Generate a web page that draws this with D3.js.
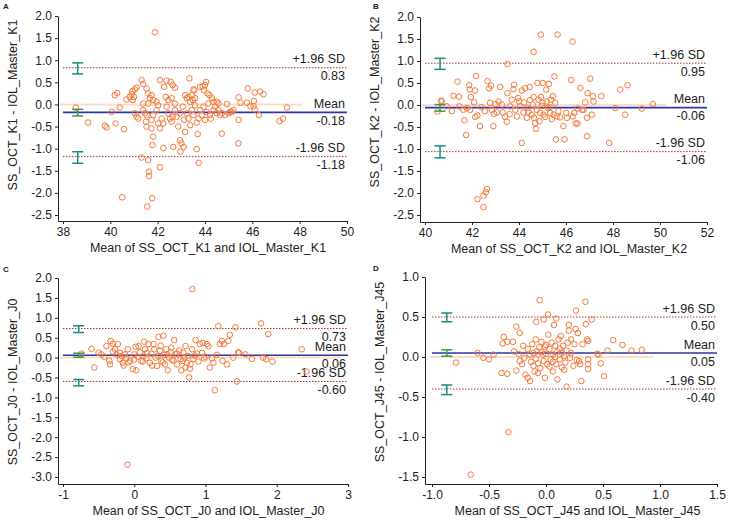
<html lang="en">
<head>
  <meta charset="UTF-8"/>
  <title>Bland-Altman plots with D3.js</title>
  <script src="https://d3js.org/d3.v7.min.js"></script>
  <style>
    body { margin: 0; background: #fff; }
    svg { font-family: 'Liberation Sans', Arial, sans-serif; }
    .tick text { font-size: 12px; fill: #222; }
    .tick line, .domain { stroke: #222; }
    .title { font-size: 12.5px; fill: #222; }
    .lim { font-size: 12.5px; fill: #222; }
    .letter { font-size: 8px; font-weight: bold; fill: #222; }
  </style>
</head>
<body>
  <svg width="740" height="529"></svg>

  <script>

  // ---- data ----
  const panelLetters = ['A', 'B', 'C', 'D'];
  const xTitles = [
    'Mean of SS_OCT_K1 and IOL_Master_K1',
    'Mean of SS_OCT_K2 and IOL_Master_K2',
    'Mean of SS_OCT_J0 and IOL_Master_J0',
    'Mean of SS_OCT_J45 and IOL_Master_J45'
  ];
  const yTitles = [
    'SS_OCT_K1 - IOL_Master_K1',
    'SS_OCT_K2 - IOL_Master_K2',
    'SS_OCT_J0 - IOL_Master_J0',
    'SS_OCT_J45 - IOL_Master_J45'
  ];

  const xTicksA = [38, 40, 42, 44, 46, 48, 50];
  const xTicksB = [40, 42, 44, 46, 48, 50, 52];
  const xTicksC = [-1, 0, 1, 2, 3];
  const xTicksD = [-1.0, -0.5, 0.0, 0.5, 1.0, 1.5];
  const yTicksA = [-2.5, -2.0, -1.5, -1.0, -0.5, 0.0, 0.5, 1.0, 1.5, 2.0];
  const yTicksB = [-2.5, -2.0, -1.5, -1.0, -0.5, 0.0, 0.5, 1.0, 1.5, 2.0];
  const yTicksC = [-3.0, -2.5, -2.0, -1.5, -1.0, -0.5, 0.0, 0.5, 1.0, 1.5, 2.0];
  const yTicksD = [-1.5, -1.0, -0.5, 0.0, 0.5, 1.0];

  // [upper limit, mean, lower limit]
  const limitsA = [0.83, -0.18, -1.18];
  const limitsB = [0.95, -0.06, -1.06];
  const limitsC = [0.73, 0.06, -0.60];
  const limitsD = [0.50, 0.05, -0.40];

  // confidence intervals of the limits and of the mean
  const ciA = [[0.69, 0.94], [-0.26, -0.11], [-1.33, -1.07]];
  const ciB = [[0.81, 1.06], [-0.14, 0.01], [-1.20, -0.93]];
  const ciC = [[0.63, 0.80], [0.01, 0.11], [-0.71, -0.55]];
  const ciD = [[0.44, 0.55], [0.01, 0.09], [-0.47, -0.35]];
  const ciX = [38.62, 40.64, -0.78, -0.87];
  const zeroEnd = [48.1, 50.26, 2.9, 0.94];

  const pointsA = [
    [41.88,1.63],[38.54,-0.07],[39.06,-0.41],[39.77,-0.48],[39.84,-0.52],[40.22,-0.43],[40.58,-0.56],
    [40.5,-2.10],[41.56,-2.31],[41.77,-2.12],[41.63,-1.52],[41.64,-1.62],[41.6,-1.26],[41.32,-1.20],
    [42.1,-1.42],[41.78,-0.92],[41.81,-0.73],[42.24,-0.99],[42.66,-0.96],[42.94,-0.81],[43.0,-0.88],
    [42.96,-1.07],[43.1,-0.96],[43.65,-1.01],[43.73,-1.32],[43.69,-0.67],[44.71,-0.66],[45.41,-0.88],
    [45.42,-0.35],[47.46,-0.07],[47.15,-0.38],[47.3,-0.32],[45.42,0.16],[45.77,0.04],[45.8,0.36],
    [46.1,0.27],[46.33,0.29],[46.47,0.23],[46.07,0.08],[46.05,-0.04],[46.1,-0.11],[46.28,-0.24],
    [45.92,-0.04],[45.5,0.04],[44.92,0.01],[45.06,-0.17],
    [40.19,0.21],[40.29,0.26],[40.68,0.11],[40.82,0.17],[40.9,0.23],[40.94,0.30],[41.04,0.34],
    [41.11,0.38],[41.0,0.17],[40.94,0.10],[41.32,0.55],[41.39,0.46],[41.53,0.36],[41.6,0.25],
    [41.67,0.14],[41.74,0.21],[41.81,0.10],[41.95,0.06],[42.02,-0.02],[42.1,0.55],[42.27,0.40],
    [42.38,0.54],[42.55,0.51],[42.63,0.44],[42.73,0.38],[42.34,0.17],[42.45,0.10],[42.59,0.14],
    [42.73,0.02],[43.16,0.21],[43.23,0.14],[43.3,0.17],[43.37,0.06],[43.48,0.10],[43.58,0.14],
    [43.34,0.59],[43.55,0.32],[43.79,0.40],[43.9,0.41],[43.96,0.32],[44.0,0.44],[44.05,0.51],
    [44.1,0.25],[44.19,0.21],[44.29,0.14],[44.36,0.06],[43.51,0.34],[43.44,0.21],
    [40.05,-0.17],[40.4,-0.07],[41.04,-0.20],[41.11,-0.28],[41.18,-0.32],[41.39,-0.13],[41.46,-0.20],
    [41.53,-0.24],[41.5,-0.39],[41.53,-0.50],[41.74,-0.35],[41.6,0.02],[41.39,0.02],[41.81,-0.24],
    [41.95,-0.13],[42.02,-0.43],[42.1,-0.54],[42.17,-0.32],[42.24,-0.43],[42.38,-0.05],[42.45,-0.20],
    [42.52,-0.32],[42.59,-0.39],[42.63,-0.28],[42.73,-0.13],[42.8,-0.28],[42.87,-0.50],[42.94,-0.20],
    [43.06,-0.05],[43.11,-0.35],[43.16,-0.62],[43.23,-0.20],[43.3,-0.32],[43.37,-0.47],[43.44,-0.13],
    [43.51,-0.24],[43.58,-0.02],[43.65,-0.41],[43.72,-0.32],[43.79,-0.13],[43.86,-0.24],[43.93,-0.05],
    [44.0,-0.35],[44.07,-0.17],[44.14,0.02],[44.21,-0.24],[44.24,-0.32],[44.36,-0.13],[44.43,-0.05],
    [44.5,-0.20],[44.57,-0.13],[44.64,-0.24],[44.71,-0.20],[44.85,-0.24],[44.99,-0.20],[45.13,-0.17],
    [45.2,-0.13],[44.57,0.02],[44.5,0.06],[41.74,-0.54]
  ];

  const pointsB = [
    [44.93,1.60],[45.64,1.60],[46.28,1.44],[44.62,1.21],[43.51,0.93],[42.17,0.66],[41.38,0.53],
    [42.66,0.54],[41.45,0.19],[41.21,0.21],[41.9,0.35],[42.13,0.33],[41.88,0.45],[41.95,0.18],
    [42.09,0.06],[40.71,0.08],[40.53,-0.15],[40.92,-0.03],[41.14,-0.14],[41.46,-0.03],[41.63,-0.11],
    [41.78,-0.07],[41.92,-0.11],[41.68,-0.35],[41.75,-0.68],[42.14,-0.27],[42.23,-0.24],[42.34,-0.48],
    [42.91,-0.48],[42.73,0.38],[42.81,0.44],[42.77,0.05],[42.84,-0.11],[42.94,-0.20],[43.05,-0.17],
    [43.13,0.08],[43.2,0.41],[43.27,0.01],[43.31,-0.17],[43.41,-0.27],[43.48,-0.38],[43.51,0.27],
    [43.62,-0.03],[43.69,0.12],[43.76,0.36],[43.79,0.46],[43.84,-0.11],[43.91,-0.26],[43.96,0.16],
    [44.05,-0.03],[44.12,0.33],[44.12,-0.86],[44.19,-0.17],[44.22,0.06],[44.26,0.38],[44.33,-0.29],
    [44.36,-0.07],[44.45,0.41],[44.47,0.11],[44.55,-0.22],[44.59,0.01],[44.62,0.18],[44.64,-0.29],
    [44.69,-0.41],[44.72,-0.54],[44.76,-0.11],[44.79,0.50],[44.83,0.12],[44.87,-0.37],[44.9,-0.18],
    [44.94,0.18],[44.97,-0.02],[45.01,0.50],[45.04,-0.22],[45.11,-0.27],[45.16,0.35],[45.18,0.08],
    [45.23,-0.07],[45.27,0.48],[45.33,-0.18],[45.36,0.12],[45.4,-0.32],[45.44,0.20],[45.47,-0.22],
    [45.51,0.65],[45.54,0.05],[45.57,-0.78],[45.61,-0.26],[45.68,-0.14],[45.89,-0.48],[45.94,-0.78],
    [46.01,-0.18],[46.04,-0.29],[46.21,0.57],[46.29,-0.26],[46.35,-0.18],[46.41,-0.42],[46.49,-0.42],
    [46.61,0.39],[46.68,-0.11],[46.75,-0.11],[46.82,0.06],[46.89,-0.29],[46.89,-0.71],[46.92,0.27],
    [47.03,0.60],[47.1,-0.22],[47.14,0.20],[47.17,0.08],[47.5,0.20],[47.84,-0.86],[48.1,-0.07],
    [48.31,0.35],[48.52,-0.22],[48.62,0.45],[49.23,-0.08],[49.7,0.02],
    [42.23,-2.14],[42.49,-2.32],[42.49,-2.06],[42.59,-1.98],[42.63,-1.91],[40.69,0.10],
    [42.4,-0.05],[42.55,-0.14],[43.0,0.02],[43.6,-0.21],[44.0,0.08],[44.4,-0.15],[45.0,0.05],
    [45.3,-0.05],[45.75,-0.28],[46.5,-0.08]
  ];

  const pointsC = [
    [0.815,1.72],[-0.095,-2.69],[-0.60,0.22],[-0.56,-0.25],[-0.74,0.10],[-0.46,0.08],[-0.39,0.29],
    [-0.33,0.42],[-0.30,0.35],[-0.27,0.21],[-0.23,0.34],[-0.34,-0.17],[-0.30,0.15],[-0.25,0.08],
    [-0.20,-0.04],[-0.16,-0.13],[-0.18,0.04],[-0.13,0.08],[-0.11,-0.02],[-0.09,0.21],[-0.06,-0.08],
    [-0.02,-0.29],[0.03,-0.32],[0.00,0.08],[0.02,0.27],[0.06,0.29],[0.08,0.13],[0.10,-0.08],
    [0.13,0.04],[0.15,0.21],[0.17,-0.02],[0.20,0.34],[0.22,-0.13],[0.24,0.10],[0.27,0.34],
    [0.28,0.21],[0.30,0.00],[0.32,-0.21],[0.34,0.52],[0.36,0.17],[0.38,-0.08],[0.41,0.55],
    [0.42,0.07],[0.43,-0.17],[0.45,0.21],[0.47,-0.32],[0.49,0.00],[0.51,0.13],[0.52,0.25],
    [0.55,-0.08],[0.56,0.44],[0.58,0.08],[0.60,-0.17],[0.63,0.18],[0.65,-0.04],[0.66,-0.32],
    [0.69,0.13],[0.72,0.29],[0.74,-0.13],[0.75,0.04],[0.77,-0.50],[0.79,-0.17],[0.81,0.21],
    [0.83,-0.04],[0.86,0.44],[0.88,0.10],[0.92,0.34],[0.96,0.37],[0.98,-0.02],[1.02,0.34],
    [1.04,0.29],[1.06,-0.25],[1.09,-0.02],[1.11,-0.13],[1.13,-0.82],[1.16,0.07],[1.18,0.79],
    [1.20,0.34],[1.23,0.42],[1.24,-0.08],[1.26,0.34],[1.30,-0.17],[1.32,0.42],[1.34,0.57],
    [1.39,0.00],[1.42,0.76],[1.44,-0.60],[1.46,0.13],[1.56,0.08],[1.65,-0.03],[1.78,0.86],
    [1.81,0.00],[1.85,-0.04],[1.88,0.59],[1.94,-0.10],[2.35,0.21],[2.42,-0.35],
    [-0.42,0.02],[-0.35,-0.08],[-0.20,0.12],[-0.08,-0.12],[0.05,0.02],[0.12,-0.10],[0.18,0.12],
    [0.25,-0.20],[0.33,0.05],[0.40,-0.12],[0.46,0.08],[0.53,-0.05],[0.60,0.10],[0.68,-0.08],
    [0.72,-0.25],[0.78,-0.28],[0.85,0.05],[0.90,-0.10],[0.95,0.12],[1.00,0.02],[-0.15,-0.20],
    [0.00,-0.05],[-0.50,0.12],[0.14,0.40],[0.37,0.30],[0.70,0.00],[1.47,0.12]
  ];

  const pointsD = [
    [-0.056,0.71],[0.345,0.69],[0.263,0.58],[0.018,0.53],[-0.02,0.47],[-0.085,0.44],[0.09,0.48],
    [-0.26,0.38],[-0.23,0.30],[-0.29,0.19],[-0.37,0.25],[-0.38,0.17],[-0.34,0.19],[-0.60,0.05],
    [-0.55,-0.01],[-0.50,-0.03],[-0.46,0.03],[-0.79,-0.07],[-0.39,-0.20],[-0.34,-0.21],[-0.33,-0.94],
    [-0.66,-1.47],[-0.26,-0.17],[-0.23,-0.05],[-0.21,-0.09],[-0.19,-0.01],[-0.18,-0.22],[-0.16,-0.26],
    [-0.14,-0.30],[-0.16,0.10],[-0.14,0.03],[-0.12,0.16],[-0.11,-0.11],[-0.10,-0.18],[-0.09,0.22],
    [-0.09,-0.02],[-0.08,0.07],[-0.07,-0.08],[-0.06,0.12],[-0.05,-0.14],[-0.04,0.19],[-0.03,0.03],
    [-0.02,-0.05],[-0.01,-0.26],[-0.01,0.13],[0.00,0.04],[0.01,-0.09],[0.02,0.28],[0.03,0.10],
    [0.04,-0.03],[0.05,0.18],[0.06,-0.18],[0.06,0.03],[0.07,0.40],[0.08,0.14],[0.09,-0.09],
    [0.10,-0.28],[0.10,0.07],[0.11,0.22],[0.12,-0.03],[0.13,0.26],[0.14,-0.13],[0.15,0.14],
    [0.16,0.01],[0.17,-0.07],[0.18,-0.37],[0.18,0.08],[0.20,0.33],[0.20,0.40],[0.21,-0.01],
    [0.22,0.22],[0.24,-0.11],[0.25,0.16],[0.26,0.35],[0.28,0.30],[0.29,-0.05],[0.30,-0.09],
    [0.31,-0.30],[0.32,0.16],[0.35,0.41],[0.36,0.22],[0.37,0.20],[0.37,-0.03],[0.37,-0.09],
    [0.37,-0.15],[0.40,0.47],[0.45,0.04],[0.48,-0.08],[0.51,-0.24],[0.54,0.08],[0.59,0.21],
    [0.67,0.15],[0.75,0.08],[0.84,0.09],[0.46,0.03],[-0.28,0.07],[-0.24,0.04],[-0.20,0.14],
    [-0.13,-0.06],[-0.04,0.06],[0.03,-0.12],[0.08,0.00],[0.12,0.10],[0.16,-0.16],[0.22,0.05],
    [0.27,-0.04],[-0.11,0.05],[0.00,0.15],[0.19,0.18],[-0.07,-0.20],[0.14,0.05],[0.06,-0.06]
  ];

  // ---- layout (pixel frame of each panel) ----
  const panels = [
    { id: 0, pts: pointsA, xt: xTicksA, yt: yTicksA, lim: limitsA, ci: ciA, xFmt: d => d,
      axX: 58, axY: 221, x0: 63, x1: 347, yB: 215, yT: 16, lx: 3, ly: 9, tx: 13, ty: 105 },
    { id: 1, pts: pointsB, xt: xTicksB, yt: yTicksB, lim: limitsB, ci: ciB, xFmt: d => d,
      axX: 420, axY: 222, x0: 425, x1: 707, yB: 215, yT: 17, lx: 373, ly: 9, tx: 375, ty: 102 },
    { id: 2, pts: pointsC, xt: xTicksC, yt: yTicksC, lim: limitsC, ci: ciC, xFmt: d => d,
      axX: 58, axY: 484, x0: 63, x1: 348, yB: 477, yT: 278, lx: 3, ly: 272, tx: 13, ty: 382 },
    { id: 3, pts: pointsD, xt: xTicksD, yt: yTicksD, lim: limitsD, ci: ciD, xFmt: d => d.toFixed(1),
      axX: 425, axY: 484, x0: 432, x1: 717, yB: 477, yT: 277, lx: 373, ly: 271, tx: 380, ty: 372 }
  ];

  const svg = d3.select('svg');
  svg.append('rect').attr('width', 740).attr('height', 529).attr('fill', '#fff');

  panels.forEach(p => {
    const g = svg.append('g');
    const x = d3.scaleLinear().domain([p.xt[0], p.xt[p.xt.length - 1]]).range([p.x0, p.x1]);
    const y = d3.scaleLinear().domain([p.yt[0], p.yt[p.yt.length - 1]]).range([p.yB, p.yT]);

    // axes, stretched so the two domain lines meet in the corner
    const xAxisScale = x.copy().domain([x.invert(p.axX), x.domain()[1]]).range([p.axX, p.x1]);
    const yAxisScale = y.copy().domain([y.invert(p.axY), y.domain()[1]]).range([p.axY, p.yT]);

    g.append('g')
      .attr('transform', `translate(0, ${p.axY})`)
      .call(d3.axisBottom(xAxisScale).tickValues(p.xt).tickFormat(p.xFmt)
        .tickSize(3).tickSizeOuter(0).tickPadding(3));

    g.append('g')
      .attr('transform', `translate(${p.axX}, 0)`)
      .call(d3.axisLeft(yAxisScale).tickValues(p.yt).tickFormat(d => d.toFixed(1))
        .tickSize(3).tickSizeOuter(0).tickPadding(3));

    // zero line
    g.append('line')
      .attr('x1', x(p.xt[0]) - 3).attr('x2', x(zeroEnd[p.id]))
      .attr('y1', y(0)).attr('y2', y(0))
      .attr('stroke', '#fbd7bd').attr('stroke-width', 2).attr('opacity', 0.85);

    // limits of agreement + mean
    p.lim.forEach((v, i) => {
      const isMean = i === 1;
      g.append('line')
        .attr('x1', x.range()[0]).attr('x2', x.range()[1])
        .attr('y1', y(v)).attr('y2', y(v))
        .attr('stroke', isMean ? '#2c34a8' : '#a83232')
        .attr('stroke-width', isMean ? 1.6 : 1)
        .attr('stroke-dasharray', isMean ? null : '1.5,1.5');

      g.append('text')
        .attr('class', 'lim')
        .attr('x', x.range()[1] - 2)
        .attr('y', y(v) - 4.5)
        .attr('text-anchor', 'end')
        .text(isMean ? 'Mean' : (i === 0 ? '+1.96 SD' : '-1.96 SD'));

      g.append('text')
        .attr('class', 'lim')
        .attr('x', x.range()[1] - 2)
        .attr('y', y(v) + 12.5)
        .attr('text-anchor', 'end')
        .text(v.toFixed(2));
    });

    // data points
    g.selectAll('circle')
      .data(p.pts)
      .enter()
      .append('circle')
      .attr('cx', d => x(d[0]))
      .attr('cy', d => y(d[1]))
      .attr('r', 2.8)
      .attr('fill', 'none')
      .attr('stroke', '#f5793b')
      .attr('stroke-width', 1);

    // confidence interval bars
    p.ci.forEach((c, i) => {
      const cx = x(ciX[p.id]);
      const col = i === 1 ? '#3a9a44' : '#178c86';
      const bar = g.append('g').attr('stroke', col).attr('stroke-width', 1.5);
      bar.append('line').attr('x1', cx).attr('x2', cx).attr('y1', y(c[0])).attr('y2', y(c[1]));
      [c[0], c[1]].forEach(v => {
        bar.append('line').attr('x1', cx - 5.5).attr('x2', cx + 5.5).attr('y1', y(v)).attr('y2', y(v));
      });
    });

    // titles
    g.append('text')
      .attr('class', 'title')
      .attr('x', (p.x0 + p.x1) / 2 + 3)
      .attr('y', p.axY + 31)
      .attr('text-anchor', 'middle')
      .text(xTitles[p.id]);

    g.append('text')
      .attr('class', 'title')
      .attr('transform', `translate(${p.tx + 4}, ${p.ty}) rotate(-90)`)
      .attr('text-anchor', 'middle')
      .text(yTitles[p.id]);

    g.append('text')
      .attr('class', 'letter')
      .attr('x', p.lx)
      .attr('y', p.ly)
      .text(panelLetters[p.id]);
  });

  </script>
</body>
</html>
